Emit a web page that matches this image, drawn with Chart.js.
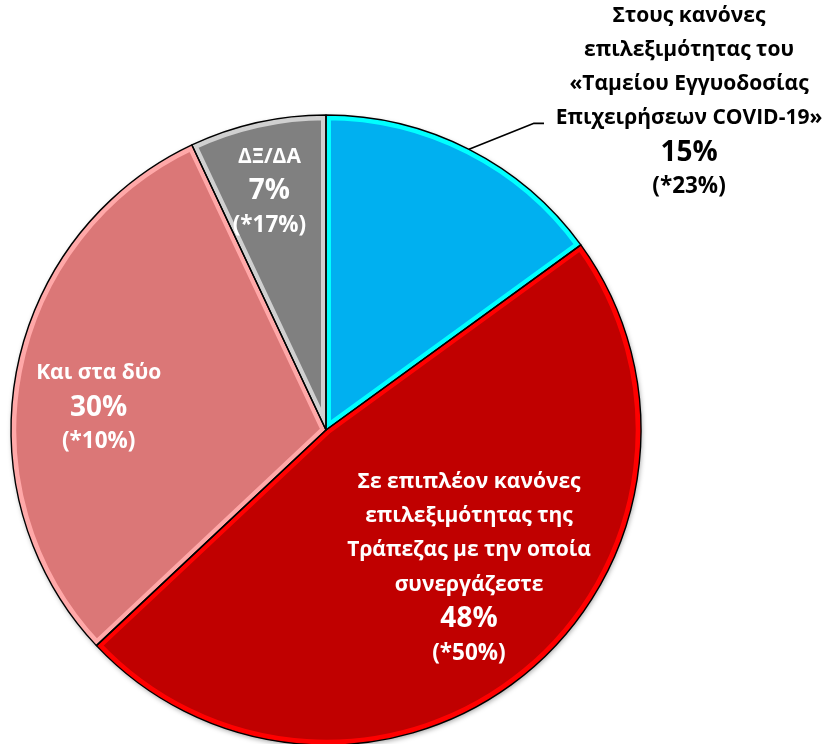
<!DOCTYPE html>
<html>
<head>
<meta charset="utf-8">
<script src="https://cdn.jsdelivr.net/npm/chart.js@4.4.1/dist/chart.umd.min.js"></script>
<style>
    html, body { margin: 0; padding: 0; background: #ffffff; overflow: hidden; }
    #wrap { position: relative; width: 829px; height: 760px; }
</style>
</head>
<body>
<div id="wrap"><canvas id="pieChart"></canvas></div>
<script>
// Chart data
const categories = [
    'Στους κανόνες επιλεξιμότητας του «Ταμείου Εγγυοδοσίας Επιχειρήσεων COVID-19»',
    'Σε επιπλέον κανόνες επιλεξιμότητας της Τράπεζας με την οποία συνεργάζεστε',
    'Και στα δύο',
    'ΔΞ/ΔΑ'
];
const shares = [15, 48, 30, 7];
const previousShares = [23, 50, 10, 17];

// label text broken into lines as in the original
const labelLines = [
    ['Στους κανόνες', 'επιλεξιμότητας του', '«Ταμείου Εγγυοδοσίας', 'Επιχειρήσεων COVID-19»'],
    ['Σε επιπλέον κανόνες', 'επιλεξιμότητας της', 'Τράπεζας με την οποία', 'συνεργάζεστε'],
    ['Και στα δύο'],
    ['ΔΞ/ΔΑ']
];

const fillColors = ['#00b0f0', '#c00000', '#db7777', '#808080'];
const edgeColors = ['#00ffff', '#ff0000', '#ffa8a8', '#d0d0d0'];

document.addEventListener('DOMContentLoaded', function() {
    const ctx = document.getElementById('pieChart').getContext('2d');
    const FONT = '"Open Sans", "DejaVu Sans", sans-serif';
    const LINE = 34.3;

    // where each label block sits: inside slices use angle shift (deg) + radius fraction
    const labelPlace = [
        { outside: true },
        { shift: -6.5, frac: 0.63 },
        { shift: -5.2, frac: 0.725 },
        { shift: -0.7, frac: 0.78 }
    ];

    function drawBlock(c, lines, x, yMid, color) {
        const n = lines.length;
        let y = yMid - (n - 1) * LINE / 2;
        c.fillStyle = color;
        c.textAlign = 'center';
        c.textBaseline = 'middle';
        lines.forEach(function(l) {
            c.font = 'bold ' + l.size + 'px ' + FONT;
            c.fillText(l.text, x, y);
            y += LINE;
        });
    }

    // soft shadow under the whole pie
    const pieShadow = {
        id: 'pieShadow',
        beforeDatasetsDraw(chart) {
            const arc = chart.getDatasetMeta(0).data[0];
            if (!arc) return;
            const c = chart.ctx;
            c.save();
            c.shadowColor = 'rgba(0,0,0,0.35)';
            c.shadowBlur = 5;
            c.shadowOffsetX = 1;
            c.shadowOffsetY = 2;
            c.fillStyle = '#ffffff';
            c.beginPath();
            c.arc(arc.x, arc.y, arc.outerRadius, 0, Math.PI * 2);
            c.fill();
            c.restore();
        }
    };

    // black outline around every slice, then the labels
    const sliceLabels = {
        id: 'sliceLabels',
        afterDatasetsDraw(chart) {
            const c = chart.ctx;
            const arcs = chart.getDatasetMeta(0).data;
            c.save();
            c.strokeStyle = '#000000';
            c.lineWidth = 1.4;
            c.lineJoin = 'round';
            arcs.forEach(function(a) {
                c.beginPath();
                c.moveTo(a.x, a.y);
                c.arc(a.x, a.y, a.outerRadius, a.startAngle, a.endAngle);
                c.closePath();
                c.stroke();
            });

            arcs.forEach(function(a, i) {
                const lines = labelLines[i].map(function(t) { return { text: t, size: 21 }; });
                lines.push({ text: shares[i] + '%', size: 28 });
                lines.push({ text: '(*' + previousShares[i] + '%)', size: 22.5 });
                const mid = (a.startAngle + a.endAngle) / 2;
                const p = labelPlace[i];
                if (p.outside) {
                    const ex = a.x + Math.cos(mid) * a.outerRadius;
                    const ey = a.y + Math.sin(mid) * a.outerRadius;
                    const kx = ex + 65, ky = ey - 26;
                    c.strokeStyle = '#000000';
                    c.lineWidth = 1.6;
                    c.beginPath();
                    c.moveTo(ex, ey);
                    c.lineTo(kx, ky);
                    c.lineTo(kx + 10, ky);
                    c.stroke();
                    drawBlock(c, lines, kx + 155, ky - 22, '#000000');
                } else {
                    const ang = mid + p.shift * Math.PI / 180;
                    const r = a.outerRadius * p.frac;
                    drawBlock(c, lines, a.x + Math.cos(ang) * r, a.y + Math.sin(ang) * r, '#ffffff');
                }
            });
            c.restore();
        }
    };

    new Chart(ctx, {
        type: 'pie',
        data: {
            labels: categories,
            datasets: [{
                data: shares,
                backgroundColor: fillColors,
                borderColor: edgeColors,
                borderWidth: 5,
                borderAlign: 'inner'
            }]
        },
        options: {
            responsive: true,
            maintainAspectRatio: false,
            animation: false,
            layout: {
                padding: { left: 11, right: 188, top: 115, bottom: 15 }
            },
            plugins: {
                legend: { display: false },
                tooltip: { enabled: false }
            }
        },
        plugins: [pieShadow, sliceLabels]
    });
});
</script>
</body>
</html>
